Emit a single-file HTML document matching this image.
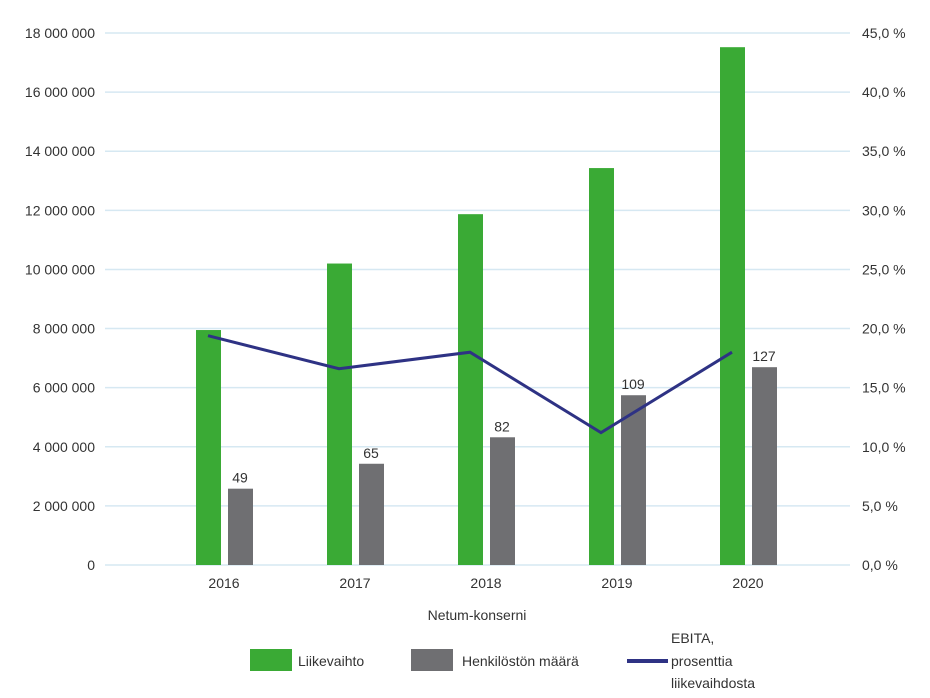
<!DOCTYPE html>
<html><head><meta charset="utf-8"><style>
body{margin:0;background:#fff;width:930px;height:693px;overflow:hidden}
svg text{font-family:"Liberation Sans",sans-serif;fill:#333;font-size:14px}
</style></head><body>
<svg id="c" width="930" height="693"></svg>
<script>
const categories=["2016","2017","2018","2019","2020"];
const revenue=[7950000,10200000,11870000,13430000,17520000];
const staff=[49,65,82,109,127];
const ebita=[19.4,16.6,18.0,11.2,18.0];
const leftTicks=[0,2000000,4000000,6000000,8000000,10000000,12000000,14000000,16000000,18000000];
const rightTicks=["0,0 %","5,0 %","10,0 %","15,0 %","20,0 %","25,0 %","30,0 %","35,0 %","40,0 %","45,0 %"];
const staffScale=52700;
const NS="http://www.w3.org/2000/svg";
const svg=document.getElementById('c');
const y0=565,yTop=33;
const yL=v=>y0-(v/18000000)*(y0-yTop);
const yR=p=>y0-(p/45)*(y0-yTop);
const xC=i=>224+i*131;
function mk(t,a,txt){const e=document.createElementNS(NS,t);for(const k in a)e.setAttribute(k,a[k]);if(txt!=null)e.textContent=txt;svg.appendChild(e);return e;}
function fmt(v){return v===0?"0":String(v).replace(/\B(?=(\d{3})+(?!\d))/g," ");}
leftTicks.forEach((v,i)=>{
 let g=mk('line',{x1:105,x2:850,y1:yL(v),y2:yL(v),stroke:'#d6e8f2','stroke-width':1.5});
 
 
 let t=mk('text',{x:95,y:yL(v)+5,'text-anchor':'end'},fmt(v));
 
 
 let r=mk('text',{x:862,y:yL(v)+5},rightTicks[i]);
 
 
});
categories.forEach((c,i)=>{
 let b=mk('rect',{x:xC(i)-28,y:yL(revenue[i]),width:25,height:y0-yL(revenue[i]),fill:'#3aaa35'});
 
 
 let sv=staff[i]*staffScale;
 let g=mk('rect',{x:xC(i)+4,y:yL(sv),width:25,height:y0-yL(sv),fill:'#6f6f72'});
 
 
 let l=mk('text',{x:xC(i)+16,y:yL(sv)-6,'text-anchor':'middle'},String(staff[i]));
 
 
 let x=mk('text',{x:xC(i),y:588,'text-anchor':'middle'},c);
 
 
});
let pts=ebita.map((p,i)=>(xC(i)-16)+","+yR(p)).join(" ");
let pl=mk('polyline',{points:pts,fill:'none',stroke:'#2e3284','stroke-width':3});


let xt=mk('text',{x:477,y:620,'text-anchor':'middle'},'Netum-konserni');


let s1=mk('rect',{x:250,y:649,width:42,height:22,fill:'#3aaa35'});


let t1=mk('text',{x:298,y:666},'Liikevaihto');


let s2=mk('rect',{x:411,y:649,width:42,height:22,fill:'#6f6f72'});


let t2=mk('text',{x:462,y:666},'Henkilöstön määrä');


let s3=mk('line',{x1:627,x2:668,y1:661,y2:661,stroke:'#2e3284','stroke-width':4});


[['EBITA,',643],['prosenttia',666],['liikevaihdosta',688]].forEach(a=>{
 let t=mk('text',{x:671,y:a[1]},a[0]);
 
 
});
</script>
</body></html>
